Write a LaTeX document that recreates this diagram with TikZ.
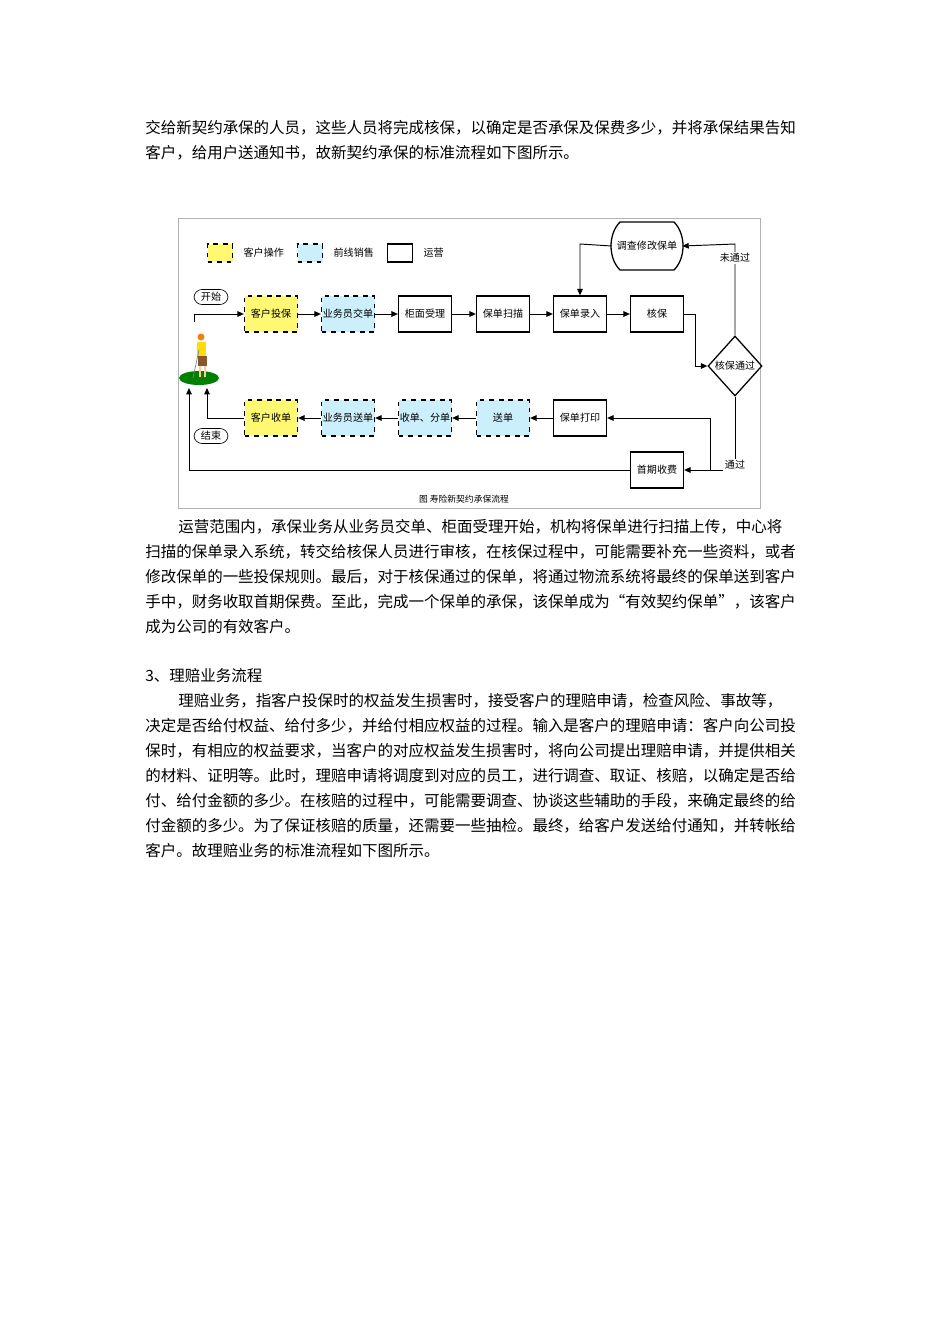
\documentclass[tikz,border=0pt]{standalone}
\usepackage{fontspec}
\setmainfont{Noto Sans CJK SC}
\usetikzlibrary{shapes.geometric,arrows.meta}
\begin{document}
\begin{tikzpicture}[x=0.6263pt,y=-0.6263pt,
  txt/.style={anchor=west,inner sep=0,font=\fontsize{9.7pt}{10pt}\selectfont},
  bx/.style={draw,thick,minimum width=53*0.6263pt,minimum height=36*0.6263pt,inner sep=0,font=\fontsize{6.3pt}{7pt}\selectfont},
  cust/.style={bx,dashed,fill=yellow!55},
  sale/.style={bx,dashed,fill=cyan!20},
  sm/.style={font=\fontsize{6.3pt}{7pt}\selectfont},
  arr/.style={-{Triangle[length=4pt,width=3.5pt]},semithick},
  pill/.style={draw,rounded corners=5pt,minimum width=34*0.6263pt,minimum height=15*0.6263pt,inner sep=0,sm}]
\useasboundingbox (0,0) rectangle (950,1344);
\fill[white] (0,0) rectangle (950,1344);
% paragraphs
\node[txt] (p1) at (145,128) {交给新契约承保的人员，这些人员将完成核保，以确定是否承保及保费多少，并将承保结果告知};
\node[txt] (p2) at (145,153) {客户，给用户送通知书，故新契约承保的标准流程如下图所示。};
\node[txt] (p3) at (178,527) {运营范围内，承保业务从业务员交单、柜面受理开始，机构将保单进行扫描上传，中心将};
\node[txt] (p4) at (145,552) {扫描的保单录入系统，转交给核保人员进行审核，在核保过程中，可能需要补充一些资料，或者};
\node[txt] (p5) at (145,577) {修改保单的一些投保规则。最后，对于核保通过的保单，将通过物流系统将最终的保单送到客户};
\node[txt] (p6) at (145,602) {手中，财务收取首期保费。至此，完成一个保单的承保，该保单成为“有效契约保单”，该客户};
\node[txt] (p7) at (145,627) {成为公司的有效客户。};
\node[txt] (p8) at (145,676) {3、理赔业务流程};
\node[txt] (p9) at (178,701) {理赔业务，指客户投保时的权益发生损害时，接受客户的理赔申请，检查风险、事故等，};
\node[txt] (p10) at (145,726) {决定是否给付权益、给付多少，并给付相应权益的过程。输入是客户的理赔申请：客户向公司投};
\node[txt] (p11) at (145,751) {保时，有相应的权益要求，当客户的对应权益发生损害时，将向公司提出理赔申请，并提供相关};
\node[txt] (p12) at (145,776) {的材料、证明等。此时，理赔申请将调度到对应的员工，进行调查、取证、核赔，以确定是否给};
\node[txt] (p13) at (145,801) {付、给付金额的多少。在核赔的过程中，可能需要调查、协谈这些辅助的手段，来确定最终的给};
\node[txt] (p14) at (145,826) {付金额的多少。为了保证核赔的质量，还需要一些抽检。最终，给客户发送给付通知，并转帐给};
\node[txt] (p15) at (145,851) {客户。故理赔业务的标准流程如下图所示。};
% frame
\draw[gray!60] (178,218) rectangle (760,508);
% legend
\node[cust,minimum width=25*0.6263pt,minimum height=18*0.6263pt] (l1) at (220,253) {};
\node[sm,anchor=west] (l1t) at (238,253) {客户操作};
\node[sale,minimum width=25*0.6263pt,minimum height=18*0.6263pt] (l2) at (310,253) {};
\node[sm,anchor=west] (l2t) at (328,253) {前线销售};
\node[bx,minimum width=25*0.6263pt,minimum height=18*0.6263pt] (l3) at (400,253) {};
\node[sm,anchor=west] (l3t) at (418,253) {运营};
% row 1
\node[cust] (a1) at (271,314) {客户投保};
\node[sale] (a2) at (348,314) {业务员交单};
\node[bx] (a3) at (425,314) {柜面受理};
\node[bx] (a4) at (503,314) {保单扫描};
\node[bx] (a5) at (580,314) {保单录入};
\node[bx] (a6) at (657,314) {核保};
% row 2
\node[cust] (b1) at (271,418) {客户收单};
\node[sale] (b2) at (348,418) {业务员送单};
\node[sale] (b3) at (425,418) {收单、分单};
\node[sale] (b4) at (503,418) {送单};
\node[bx] (b5) at (580,418) {保单打印};
\node[bx] (c1) at (657,470) {首期收费};
% diamond
\node[draw,thick,diamond,aspect=0.9,minimum width=54*0.6263pt,minimum height=60*0.6263pt,inner sep=0,sm] (d) at (735,366) {核保通过};
% investigate shape
\draw[thick] (620,222) -- (674,222) .. controls (686,234) and (686,258) .. (674,270) -- (620,270) .. controls (608,258) and (608,234) .. (620,222) -- cycle;
\node[sm,minimum width=70*0.6263pt,minimum height=48*0.6263pt,inner sep=0] (inv) at (647,246) {调查修改保单};
% start/end
\node[pill] (st) at (211,297) {开始};
\node[pill] (en) at (211,436) {结束};
% golfer
\fill[green!50!black] (199,378) ellipse (20 and 7);
\coordinate (g) at (199,386);
\fill[orange!70!brown] (201,337) circle (3.5);
\fill[yellow!80!orange] (197,342) rectangle (206,357);
\fill[brown!70!black] (198,356) rectangle (207,366);
\fill[orange!40] (199,366) rectangle (201,377);
\fill[orange!40] (204,366) rectangle (206,377);
\draw[gray] (199,350) -- (193,378);
% connectors
\coordinate (s0) at (194,322);
\draw[arr] (s0) -- (194,314) -- (a1);
\draw[arr] (a1) -- (a2);
\draw[arr] (a2) -- (a3);
\draw[arr] (a3) -- (a4);
\draw[arr] (a4) -- (a5);
\draw[arr] (a5) -- (a6);
\draw[arr] (a6.east) -- (695,314) -- (695,366) -- (d.west);
\draw[arr] (d.north) -- (735,244) -- (inv.east);
\draw[arr] (inv.west) -- (580,244) -- (a5.north);
\draw[arr] (d.south) -- (735,470) -- (c1.east);
\draw[arr] (710,470) -- (710,418) -- (b5.east);
\draw[arr] (b5) -- (b4);
\draw[arr] (b4) -- (b3);
\draw[arr] (b3) -- (b2);
\draw[arr] (b2) -- (b1);
\draw[arr] (b1.west) -- (207,418) -- (207,388);
\draw[arr] (c1.west) -- (189,470) -- (189,388);
\node[sm,fill=white,inner sep=1pt] (nt) at (735,258) {未通过};
\node[sm,fill=white,inner sep=1pt] (pt) at (735,465) {通过};
\node[font=\fontsize{5.5pt}{6pt}\selectfont] (cap) at (464,499) {图 寿险新契约承保流程};
\end{tikzpicture}
\end{document}
